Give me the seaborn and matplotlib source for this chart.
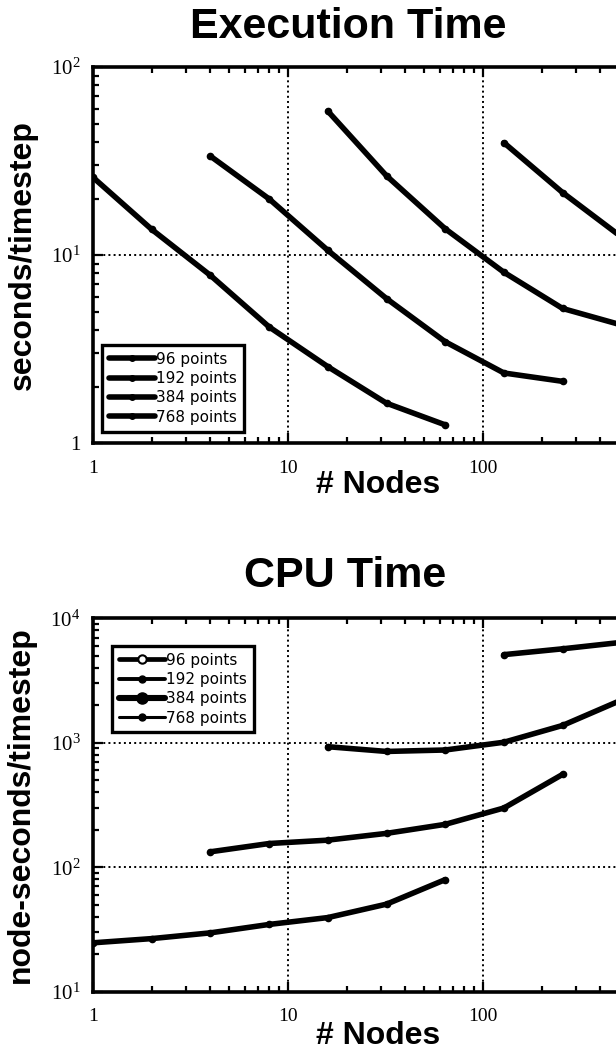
import numpy as np
import pandas as pd
import matplotlib
matplotlib.use("Agg")
import matplotlib.pyplot as plt
import seaborn as sns
from matplotlib.lines import Line2D
from matplotlib.ticker import FixedLocator, LogLocator, NullFormatter

# data (x = number of nodes)
series_names = ["96 points", "192 points", "384 points", "768 points"]
nodes_96 = [1, 2, 4, 8, 16, 32, 64]
nodes_192 = [4, 8, 16, 32, 64, 128, 256]
nodes_384 = [16, 32, 64, 128, 256, 512]
nodes_768 = [128, 256, 512, 1024]

# execution time, seconds/timestep
exec_96 = [25.9, 13.7, 7.8, 4.15, 2.55, 1.63, 1.25]
exec_192 = [33.6, 19.9, 10.6, 5.87, 3.46, 2.36, 2.13]
exec_384 = [58.3, 26.4, 13.8, 8.1, 5.2, 4.25]
exec_768 = [39.6, 21.5, 12.5, 7.6]

# cpu time, node-seconds/timestep
cpu_96 = [24.7, 26.7, 29.7, 34.7, 39.4, 50.5, 79.5]
cpu_192 = [133, 155, 165, 187, 221, 299, 557]
cpu_384 = [929, 851, 874, 1009, 1377, 2200]
cpu_768 = [5100, 5680, 6400, 7800]

x_ticks = [1, 10, 100, 1000]
x_tick_labels = ["1", "10", "100", ""]


def make_frame(node_lists, value_lists):
    rows = []
    for name, xs, ys in zip(series_names, node_lists, value_lists):
        for x, y in zip(xs, ys):
            rows.append({"series": name, "nodes": x, "value": y})
    return pd.DataFrame(rows)


def style_axis(ax, y_ticks, y_tick_labels, ylabel, ylabel_x, xlabel_y):
    ax.set_xscale("log")
    ax.set_yscale("log")
    ax.set_xlim(1, 1000)
    ax.set_ylim(y_ticks[0], y_ticks[-1])
    ax.xaxis.set_major_locator(FixedLocator(x_ticks))
    ax.set_xticklabels(x_tick_labels)
    ax.yaxis.set_major_locator(FixedLocator(y_ticks))
    ax.set_yticklabels(y_tick_labels)
    ax.xaxis.set_minor_locator(LogLocator(base=10, subs=np.arange(2, 10)))
    ax.yaxis.set_minor_locator(LogLocator(base=10, subs=np.arange(2, 10)))
    ax.xaxis.set_minor_formatter(NullFormatter())
    ax.yaxis.set_minor_formatter(NullFormatter())
    ax.tick_params(which="both", direction="in", top=True, right=True,
                   color="black", labelcolor="black", width=1.6, labelsize=14,
                   labelfontfamily="Liberation Serif")
    ax.tick_params(which="major", length=7, pad=9)
    ax.tick_params(which="minor", length=4)
    ax.tick_params(axis="x", pad=12)
    ax.tick_params(axis="y", labelsize=15)
    for sp in ax.spines.values():
        sp.set_linewidth(2.6)
        sp.set_color("black")
    ax.grid(True, which="major", ls=":", color="black", lw=1.4)
    ax.set_xlabel("# Nodes", fontsize=23, fontweight="bold",
                  fontfamily="Liberation Sans", color="black")
    ax.set_ylabel(ylabel, fontsize=23, fontweight="bold",
                  fontfamily="Liberation Sans", color="black")
    ax.xaxis.set_label_coords(0.487, xlabel_y)
    ax.yaxis.set_label_coords(ylabel_x, 0.5)


sns.set_style("ticks")
plt.rcParams["font.family"] = ["DejaVu Sans"]
plt.rcParams["text.color"] = "black"
plt.rcParams["mathtext.fontset"] = "custom"
plt.rcParams["mathtext.rm"] = "Liberation Serif"

fig = plt.figure(figsize=(6.16, 10.55), dpi=100)
ax1 = fig.add_axes([0.151, 0.580, 0.9497, 0.3564])
ax2 = fig.add_axes([0.151, 0.0600, 0.9497, 0.3540])

exec_df = make_frame([nodes_96, nodes_192, nodes_384, nodes_768],
                     [exec_96, exec_192, exec_384, exec_768])
cpu_df = make_frame([nodes_96, nodes_192, nodes_384, nodes_768],
                    [cpu_96, cpu_192, cpu_384, cpu_768])

for ax, df in [(ax1, exec_df), (ax2, cpu_df)]:
    ax.set_xscale("log")
    ax.set_yscale("log")
    sns.lineplot(data=df, x="nodes", y="value", hue="series",
                 palette=["black"] * 4, estimator=None, sort=False,
                 linewidth=4.0, marker="o", markersize=5.5,
                 markeredgewidth=0, legend=False, ax=ax)
    for ln in ax.get_lines():
        ln.set_solid_capstyle("round")

style_axis(ax1, [1, 10, 100],
           ["1", r"$\mathregular{10^{1}}$", r"$\mathregular{10^{2}}$"],
           "seconds/timestep", -0.094, -0.072)
style_axis(ax2, [10, 100, 1000, 10000],
           [r"$\mathregular{10^{1}}$", r"$\mathregular{10^{2}}$",
            r"$\mathregular{10^{3}}$", r"$\mathregular{10^{4}}$"],
           "node-seconds/timestep", -0.098, -0.078)

# legends
top_handles = [Line2D([], [], color="black", lw=4.0, marker="o", ms=4)
               for _ in series_names]
bottom_handles = [
    Line2D([], [], color="black", lw=3.4, marker="o", ms=6, mfc="white", mew=1.5),
    Line2D([], [], color="black", lw=2.8, marker="o", ms=5),
    Line2D([], [], color="black", lw=4.4, marker="o", ms=8),
    Line2D([], [], color="black", lw=2.2, marker="o", ms=5),
]
for ax, handles, anchor in [(ax1, top_handles, (0.0154, 0.261)),
                            (ax2, bottom_handles, (0.0325, 0.926))]:
    leg = ax.legend(handles, series_names, loc="upper left",
                    bbox_to_anchor=anchor, borderaxespad=0, fancybox=False,
                    edgecolor="black", framealpha=1, fontsize=11,
                    handlelength=3.0, labelspacing=0.28, handletextpad=0.1,
                    borderpad=0.45)
    leg.get_frame().set_linewidth(2.4)

fig.text(0.565, 0.974, "Execution Time", ha="center", va="center",
         fontsize=31, fontweight="bold", fontfamily="Liberation Sans")
fig.text(0.56, 0.454, "CPU Time", ha="center", va="center",
         fontsize=31, fontweight="bold", fontfamily="Liberation Sans")

fig.savefig("out.png", dpi=100)
